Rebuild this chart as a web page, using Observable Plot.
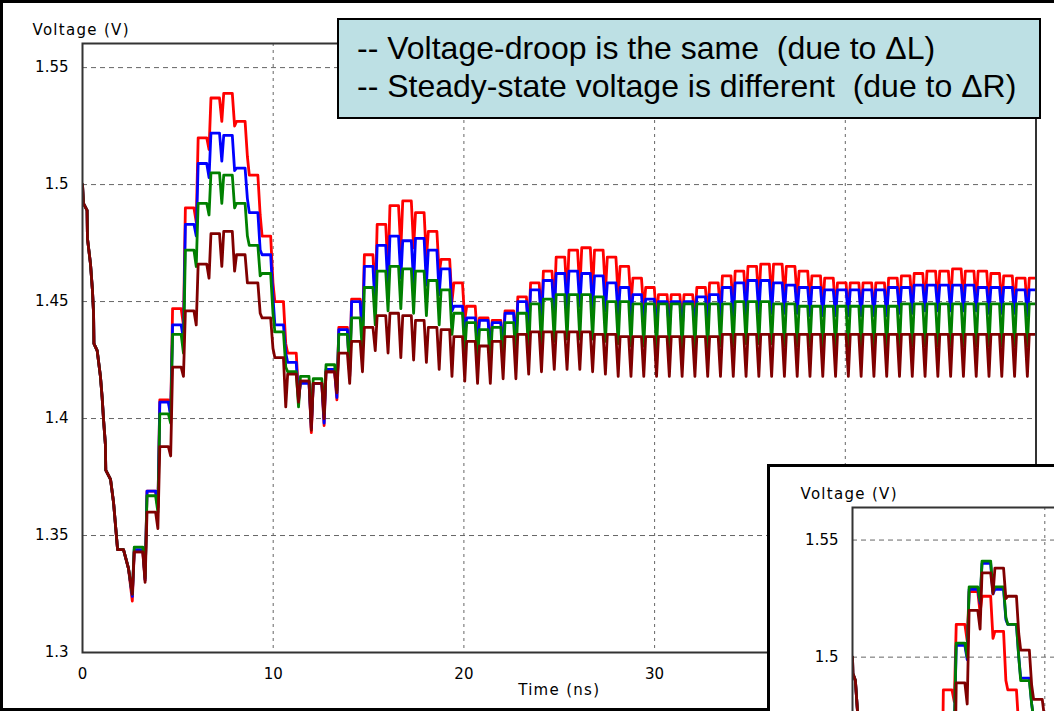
<!DOCTYPE html>
<html>
<head>
<meta charset="utf-8">
<script src="https://cdn.jsdelivr.net/npm/d3@7"></script>
<script src="https://cdn.jsdelivr.net/npm/@observablehq/plot@0.6"></script>
<style>
  html, body { margin: 0; padding: 0; background: #fff; }
  #page { position: relative; width: 1054px; height: 711px; overflow: hidden; background: #fff; }
  #page svg { max-width: none !important; }
  #main svg { position: absolute; left: 0; top: 0; }
  #border { position: absolute; left: 0; top: 0; width: 1054px; height: 711px; box-sizing: border-box;
            border-left: 3px solid #000; border-top: 3px solid #000; border-bottom: 3px solid #000; pointer-events: none; }
  #note { position: absolute; left: 337px; top: 18px; width: 704px; height: 101px; box-sizing: border-box;
          border: 2px solid #000; background: #bde0e4; color: #000;
          font-family: "Liberation Sans", Arial, sans-serif; font-size: 32px; line-height: 38px;
          padding: 9px 0 0 18px; white-space: pre; }
  #inset { position: absolute; left: 767px; top: 464px; width: 287px; height: 247px; box-sizing: border-box;
           border-left: 3px solid #000; border-top: 3px solid #000; background: #fff; overflow: hidden; }
  #inset svg { position: absolute; left: 0; top: 0; }
  .lbl text { letter-spacing: 1.3px; }
</style>
</head>
<body>
<div id="page">
  <div id="main"></div>
  <div id="border"></div>
  <div id="note">-- Voltage-droop is the same  (due to ΔL)
-- Steady-state voltage is different  (due to ΔR)</div>
  <div id="inset"></div>
</div>
<script>
// ---- axes ----
const xTicks = [0, 10, 20, 30, 40, 50];
const yTicks = [1.3, 1.35, 1.4, 1.45, 1.5, 1.55];
// the inset panel only shows the top of its voltage axis
const insetYLabels = [1.5, 1.55];

// ---- supply ripple timing (ns): dips occur at T0 + k*P ----
const P = 0.6705;
const T0 = -0.07;
const K0 = 4; // first ripple cycle listed in the peak/dip tables

// ---- main chart: initial droop shared by all four traces (t ns, V) ----
const droop = [
  [0, 1.500], [0.05, 1.492], [0.24, 1.489], [0.26, 1.477], [0.42, 1.466], [0.52, 1.455],
  [0.58, 1.445], [0.60, 1.432], [0.77, 1.429], [0.94, 1.418], [1.03, 1.409], [1.10, 1.400],
  [1.20, 1.389], [1.22, 1.378], [1.47, 1.374], [1.63, 1.364], [1.84, 1.344], [2.15, 1.344],
  [2.41, 1.336]
];

// ---- main chart: ripple-cycle peaks (cycles 4..74) and dips (4..75), volts ----
const redPeak = [
  1.343, 1.369, 1.408, 1.447, 1.490, 1.520, 1.537, 1.539, 1.527, 1.504, 1.478, 1.450, 1.428, 1.416,
  1.415, 1.420, 1.439, 1.451, 1.470, 1.483, 1.491, 1.493, 1.488, 1.480, 1.468, 1.458, 1.448, 1.443,
  1.442, 1.446, 1.452, 1.458, 1.463, 1.469, 1.472, 1.473, 1.472, 1.469, 1.465, 1.460, 1.456, 1.453,
  1.453, 1.453, 1.456, 1.458, 1.461, 1.463, 1.465, 1.466, 1.466, 1.465, 1.463, 1.461, 1.460, 1.458,
  1.458, 1.458, 1.458, 1.460, 1.461, 1.462, 1.463, 1.463, 1.464, 1.463, 1.463, 1.462, 1.461, 1.460,
  1.460
];
const redDip = [
  1.322, 1.331, 1.362, 1.402, 1.440, 1.484, 1.515, 1.527, 1.525, 1.512, 1.487, 1.458, 1.432, 1.410,
  1.394, 1.397, 1.408, 1.418, 1.436, 1.450, 1.462, 1.472, 1.473, 1.468, 1.462, 1.450, 1.442, 1.433,
  1.430, 1.430, 1.433, 1.438, 1.443, 1.448, 1.452, 1.455, 1.455, 1.454, 1.452, 1.449, 1.446, 1.443,
  1.441, 1.441, 1.442, 1.443, 1.445, 1.447, 1.449, 1.450, 1.451, 1.451, 1.451, 1.449, 1.447, 1.446,
  1.445, 1.445, 1.445, 1.445, 1.446, 1.447, 1.448, 1.449, 1.449, 1.450, 1.449, 1.449, 1.448, 1.447,
  1.446, 1.446
];
const bluePeak = [
  1.344, 1.369, 1.407, 1.440, 1.483, 1.509, 1.522, 1.521, 1.507, 1.488, 1.470, 1.440, 1.424, 1.415,
  1.415, 1.421, 1.438, 1.450, 1.465, 1.474, 1.478, 1.476, 1.477, 1.472, 1.464, 1.448, 1.443, 1.442,
  1.441, 1.445, 1.450, 1.455, 1.459, 1.462, 1.463, 1.462, 1.461, 1.458, 1.456, 1.453, 1.451, 1.450,
  1.450, 1.450, 1.452, 1.453, 1.456, 1.458, 1.459, 1.459, 1.458, 1.457, 1.456, 1.456, 1.455, 1.455,
  1.455, 1.455, 1.455, 1.456, 1.456, 1.457, 1.457, 1.457, 1.457, 1.457, 1.456, 1.456, 1.456, 1.455,
  1.455
];
const blueDip = [
  1.324, 1.331, 1.362, 1.401, 1.434, 1.478, 1.503, 1.510, 1.506, 1.494, 1.472, 1.452, 1.428, 1.408,
  1.396, 1.398, 1.409, 1.418, 1.434, 1.447, 1.455, 1.460, 1.458, 1.457, 1.453, 1.446, 1.435, 1.430,
  1.428, 1.428, 1.432, 1.436, 1.440, 1.444, 1.447, 1.448, 1.447, 1.446, 1.444, 1.442, 1.440, 1.439,
  1.438, 1.438, 1.438, 1.439, 1.440, 1.442, 1.444, 1.445, 1.445, 1.445, 1.445, 1.444, 1.444, 1.444,
  1.444, 1.444, 1.444, 1.444, 1.445, 1.445, 1.446, 1.446, 1.446, 1.446, 1.446, 1.445, 1.445, 1.445,
  1.444, 1.444
];
const greenPeak = [
  1.345, 1.367, 1.402, 1.436, 1.472, 1.492, 1.505, 1.504, 1.492, 1.474, 1.462, 1.437, 1.420, 1.418,
  1.417, 1.423, 1.436, 1.443, 1.456, 1.463, 1.465, 1.464, 1.463, 1.459, 1.455, 1.445, 1.441, 1.438,
  1.439, 1.441, 1.445, 1.449, 1.451, 1.453, 1.453, 1.453, 1.452, 1.450, 1.450, 1.449, 1.449, 1.449,
  1.449, 1.449, 1.449, 1.449, 1.449, 1.450, 1.450, 1.450, 1.449, 1.449, 1.448, 1.448, 1.448, 1.448,
  1.448, 1.448, 1.448, 1.448, 1.449, 1.449, 1.449, 1.449, 1.449, 1.449, 1.449, 1.449, 1.449, 1.449,
  1.449
];
const greenDip = [
  1.325, 1.332, 1.360, 1.398, 1.428, 1.465, 1.487, 1.492, 1.490, 1.478, 1.461, 1.445, 1.422, 1.405,
  1.398, 1.402, 1.412, 1.420, 1.428, 1.440, 1.446, 1.447, 1.445, 1.444, 1.440, 1.436, 1.428, 1.425,
  1.423, 1.424, 1.426, 1.428, 1.431, 1.433, 1.434, 1.434, 1.434, 1.433, 1.432, 1.431, 1.431, 1.430,
  1.430, 1.430, 1.430, 1.430, 1.431, 1.431, 1.432, 1.432, 1.432, 1.431, 1.431, 1.431, 1.430, 1.430,
  1.430, 1.430, 1.430, 1.430, 1.430, 1.431, 1.431, 1.431, 1.431, 1.431, 1.431, 1.431, 1.431, 1.431,
  1.431, 1.431
];
const maroonPeak = [
  1.343, 1.360, 1.388, 1.422, 1.446, 1.466, 1.479, 1.480, 1.470, 1.458, 1.443, 1.426, 1.419, 1.416,
  1.415, 1.420, 1.428, 1.433, 1.439, 1.444, 1.445, 1.444, 1.442, 1.439, 1.438, 1.435, 1.433, 1.431,
  1.433, 1.435, 1.436, 1.437, 1.437, 1.437, 1.437, 1.437, 1.436, 1.436, 1.435, 1.435, 1.435, 1.435,
  1.435, 1.435, 1.435, 1.435, 1.436, 1.436, 1.436, 1.436, 1.436, 1.436, 1.436, 1.436, 1.436, 1.436,
  1.436, 1.436, 1.436, 1.436, 1.436, 1.436, 1.436, 1.436, 1.436, 1.436, 1.436, 1.436, 1.436, 1.436,
  1.436
];
const maroonDip = [
  1.325, 1.330, 1.353, 1.384, 1.418, 1.440, 1.460, 1.465, 1.463, 1.458, 1.445, 1.430, 1.405, 1.407,
  1.395, 1.400, 1.411, 1.415, 1.420, 1.429, 1.428, 1.426, 1.425, 1.424, 1.421, 1.418, 1.416, 1.415,
  1.415, 1.417, 1.417, 1.419, 1.420, 1.421, 1.421, 1.421, 1.420, 1.419, 1.418, 1.418, 1.418, 1.418,
  1.418, 1.418, 1.418, 1.418, 1.418, 1.418, 1.418, 1.418, 1.418, 1.418, 1.418, 1.418, 1.418, 1.418,
  1.418, 1.418, 1.418, 1.418, 1.418, 1.418, 1.418, 1.418, 1.418, 1.418, 1.418, 1.418, 1.418, 1.418,
  1.418, 1.418
];

// ---- inset chart: initial droop and ripple cycles 4..15 (dips 4..16) ----
const insetDroop = [
  [0, 1.500], [0.02, 1.493], [0.15, 1.490], [0.25, 1.478], [0.6, 1.440], [1.2, 1.390],
  [1.9, 1.348], [2.4, 1.337]
];
const insetRedPeak    = [1.345, 1.385, 1.430, 1.486, 1.514, 1.528, 1.526, 1.511, 1.486, 1.462, 1.445, 1.440];
const insetRedDip     = [1.325, 1.332, 1.372, 1.420, 1.481, 1.507, 1.519, 1.508, 1.490, 1.470, 1.450, 1.438, 1.436];
const insetBluePeak   = [1.345, 1.370, 1.409, 1.454, 1.505, 1.529, 1.540, 1.529, 1.514, 1.491, 1.474, 1.462];
const insetBlueDip    = [1.325, 1.332, 1.360, 1.400, 1.469, 1.499, 1.523, 1.527, 1.516, 1.500, 1.480, 1.465, 1.456];
const insetGreenPeak  = [1.345, 1.370, 1.410, 1.455, 1.506, 1.530, 1.541, 1.530, 1.514, 1.490, 1.474, 1.462];
const insetGreenDip   = [1.325, 1.332, 1.360, 1.400, 1.470, 1.500, 1.524, 1.528, 1.517, 1.500, 1.480, 1.465, 1.456];
const insetMaroonPeak = [1.343, 1.360, 1.395, 1.440, 1.489, 1.520, 1.536, 1.538, 1.526, 1.503, 1.482, 1.475];
const insetMaroonDip  = [1.325, 1.330, 1.352, 1.385, 1.432, 1.480, 1.512, 1.527, 1.525, 1.510, 1.488, 1.474, 1.468];

const seriesColors = ["#ff0000", "#0000ff", "#008000", "#800000"];

// Build a trace: the droop points, then one dip + flat-topped peak per ripple cycle.
function trace(start, peaks, dips) {
  const pts = start.map(([t, v]) => ({t, v}));
  peaks.forEach((p, i) => {
    const t0 = T0 + (K0 + i) * P;
    pts.push({t: t0, v: dips[i]}, {t: t0 + 0.15 * P, v: p}, {t: t0 + 0.82 * P, v: p});
  });
  pts.push({t: T0 + (K0 + peaks.length) * P, v: dips[peaks.length]});
  return pts;
}

const fmtY = d3.format(".2~f");
const font = {fontFamily: "'DejaVu Sans', sans-serif", fontSize: "15px", color: "#000", background: "transparent", overflow: "visible"};

// Shared chart furniture: dashed grid, frame, tick labels, axis titles and the four traces.
function chartMarks(traces, {labelDx, yLabels, xLabels}) {
  return [
    Plot.gridX(xTicks, {stroke: "#666", strokeOpacity: 1, strokeDasharray: "3,4"}),
    Plot.gridY(yTicks, {stroke: "#666", strokeOpacity: 1, strokeDasharray: "5,4"}),
    Plot.axisY(yLabels, {tickSize: 0, tickPadding: 14, label: null, tickFormat: fmtY, fontSize: 15}),
    ...(xLabels ? [
      Plot.axisX(xLabels, {tickSize: 0, tickPadding: 16, label: null, tickFormat: d => String(d), fontSize: 15}),
      Plot.text(["Time (ns)"], {frameAnchor: "bottom", dy: 42, fontSize: 15, className: "lbl"})
    ] : []),
    ...traces.map((data, i) => Plot.line(data, {
      x: "t", y: "v", stroke: seriesColors[i], strokeWidth: 2.8, clip: true
    })),
    Plot.frame({stroke: "#333", strokeWidth: 2}),
    Plot.text(["Voltage (V)"], {frameAnchor: "top-left", textAnchor: "start", dx: labelDx, dy: -19, fontSize: 15, className: "lbl"})
  ];
}

const mainChart = Plot.plot({
  width: 1054, height: 711,
  marginLeft: 82, marginRight: 18.5, marginTop: 43, marginBottom: 59,
  style: font,
  x: {domain: [0, 50]},
  y: {domain: [1.3, 1.5603]},
  marks: chartMarks([
    trace(droop, redPeak, redDip),
    trace(droop, bluePeak, blueDip),
    trace(droop, greenPeak, greenDip),
    trace(droop, maroonPeak, maroonDip)
  ], {labelDx: -50, yLabels: yTicks, xLabels: [0, 10, 20, 30]})
});
document.getElementById("main").appendChild(mainChart);

// The inset's time axis lies below the visible panel, so it carries no tick labels.
const insetChart = Plot.plot({
  width: 1062, height: 714,
  marginLeft: 82, marginRight: 18.5, marginTop: 40, marginBottom: 56,
  style: font,
  x: {domain: [0, 50], axis: null},
  y: {domain: [1.3, 1.5639]},
  marks: chartMarks([
    trace(insetDroop, insetRedPeak, insetRedDip),
    trace(insetDroop, insetBluePeak, insetBlueDip),
    trace(insetDroop, insetGreenPeak, insetGreenDip),
    trace(insetDroop, insetMaroonPeak, insetMaroonDip)
  ], {labelDx: -52, yLabels: insetYLabels, xLabels: null})
});
document.getElementById("inset").appendChild(insetChart);
</script>
</body>
</html>
